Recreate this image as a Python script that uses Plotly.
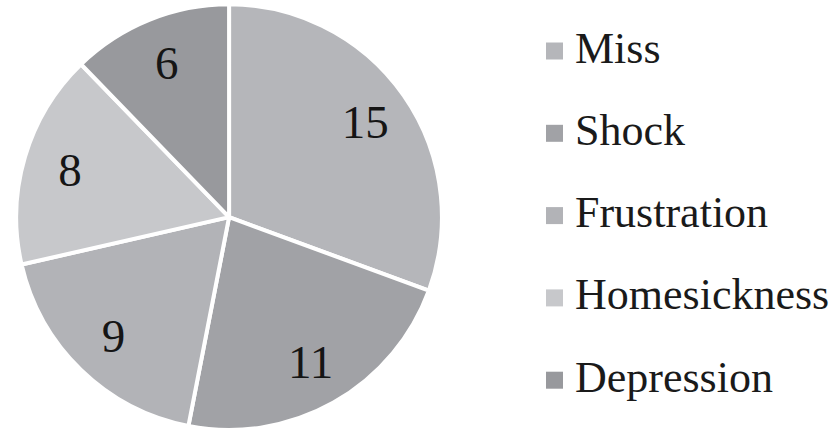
import plotly.graph_objects as go

labels = ["Miss", "Shock", "Frustration", "Homesickness", "Depression"]
values = [15, 11, 9, 8, 6]
colors = ["#b5b6ba", "#a1a2a6", "#b2b3b7", "#c7c8cb", "#98999d"]

FONT = "Liberation Serif, Times New Roman, serif"
DOMAIN = dict(x=[0.0, 0.55], y=[0.0, 0.99])

fig = go.Figure()
# filled pie
fig.add_trace(go.Pie(
    labels=labels, values=values, sort=False, direction="clockwise", rotation=0,
    marker=dict(colors=colors, line=dict(color="white", width=4)),
    textinfo="none", domain=DOMAIN, showlegend=False, hoverinfo="label+value",
))
# transparent ring carrying the value labels (places them at ~3/4 radius)
fig.add_trace(go.Pie(
    labels=labels, values=values, sort=False, direction="clockwise", rotation=0,
    hole=0.56,
    marker=dict(colors=["rgba(0,0,0,0)"] * len(labels), line=dict(width=0)),
    textinfo="value", textposition="inside", insidetextorientation="horizontal",
    textfont=dict(family=FONT, size=47, color="#151515"),
    domain=DOMAIN, showlegend=False, hoverinfo="skip",
))

# legend
y0, step = 51, 82.3
H = 430
for i, (lab, col) in enumerate(zip(labels, colors)):
    yc = y0 + i * step
    fig.add_shape(type="rect", xref="paper", yref="paper",
                  x0=546 / 833, x1=563 / 833,
                  y0=1 - (yc + 8.5) / H, y1=1 - (yc - 8.5) / H,
                  fillcolor=col, line=dict(width=0))
    fig.add_annotation(x=573 / 833, y=1 - (yc - 3) / H, xref="paper", yref="paper",
                       text=lab, showarrow=False, xanchor="left", yanchor="middle",
                       font=dict(family=FONT, size=44, color="#1a1a1a"))

fig.update_layout(width=833, height=430, margin=dict(l=0, r=0, t=0, b=0),
                  paper_bgcolor="white", plot_bgcolor="white")
fig.write_html("out.html", config={"displayModeBar": False},
               post_script="document.body.style.margin='0';document.body.style.overflow='hidden';")
